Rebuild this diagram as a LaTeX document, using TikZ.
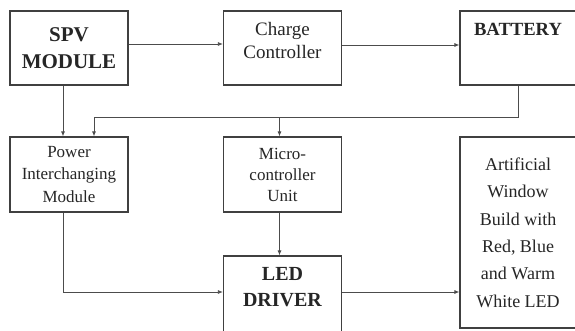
\documentclass[tikz,border=0pt]{standalone}
\usepackage{fontspec}
\setmainfont{Liberation Serif}
\usetikzlibrary{positioning, arrows.meta, calc}

\begin{document}
\begin{tikzpicture}[
    x=1pt, y=-1pt,
    block/.style={draw=black!75, line width=1.2pt, rectangle, minimum width=118pt, minimum height=75pt, align=center, fill=white, text=black!85, inner sep=0pt},
    link/.style={draw=black!70, line width=0.8pt},
    arrow/.style={link, -{Latex[length=5pt, width=4pt]}}
]
    \useasboundingbox (0,0) rectangle (575,331);

    % Top row
    \node[block, minimum height=74pt, font=\fontsize{21}{27}\selectfont\bfseries] (spv) at (69,48) {SPV\\MODULE};
    \node[block, minimum height=74pt, label={[yshift=7pt, align=center, text=black!85, font=\fontsize{19}{23}\selectfont]center:Charge\\Controller}] (chg) at (282.5,48) {};
    \node[block, minimum width=116pt, minimum height=74pt, label={[anchor=north, yshift=-9pt, text=black!85, font=\fontsize{18.6}{22}\selectfont\bfseries]north:BATTERY}] (bat) at (518,48) {};

    % Middle row
    \node[block, font=\fontsize{17}{22.5}\selectfont] (power) at (69,174.5) {Power\\Interchanging\\Module};
    \node[block, font=\fontsize{17}{21}\selectfont] (micro) at (282.5,174.5) {Micro-\\controller\\Unit};
    \node[block, minimum width=116pt, minimum height=191pt, font=\fontsize{18}{27.4}\selectfont] (art) at (518,232.5) {Artificial\\Window\\Build with\\Red, Blue\\and Warm\\White LED};

    % Bottom
    \node[block, minimum height=78pt, label={[yshift=7.5pt, align=center, text=black!85, font=\fontsize{20}{26}\selectfont\bfseries]center:LED\\DRIVER}] (led) at (282.5,295) {};

    % Connectors
    \draw[arrow] ([yshift=4pt]spv.east) -- ([yshift=4pt]chg.west);
    \draw[arrow] ([yshift=3pt]chg.east) -- ([yshift=3pt]bat.west);
    \draw[arrow] ([xshift=-6pt]spv.south) -- ([xshift=-6pt]power.north);
    \draw[link] (bat.south) -- ++(0,32) coordinate (bus);
    \draw[arrow] (bus) -| ([xshift=25pt]power.north);
    \draw[arrow] ([xshift=-3pt]micro.north |- bus) -- ([xshift=-3pt]micro.north);
    \draw[arrow] ([xshift=-6pt]power.south) |- ([yshift=3pt]led.west);
    \draw[arrow] ([xshift=-3pt]micro.south) -- ([xshift=-3pt]led.north);
    \draw[arrow] ([yshift=3pt]led.east) -- ([yshift=3pt]led.east -| art.west);
\end{tikzpicture}
\end{document}
